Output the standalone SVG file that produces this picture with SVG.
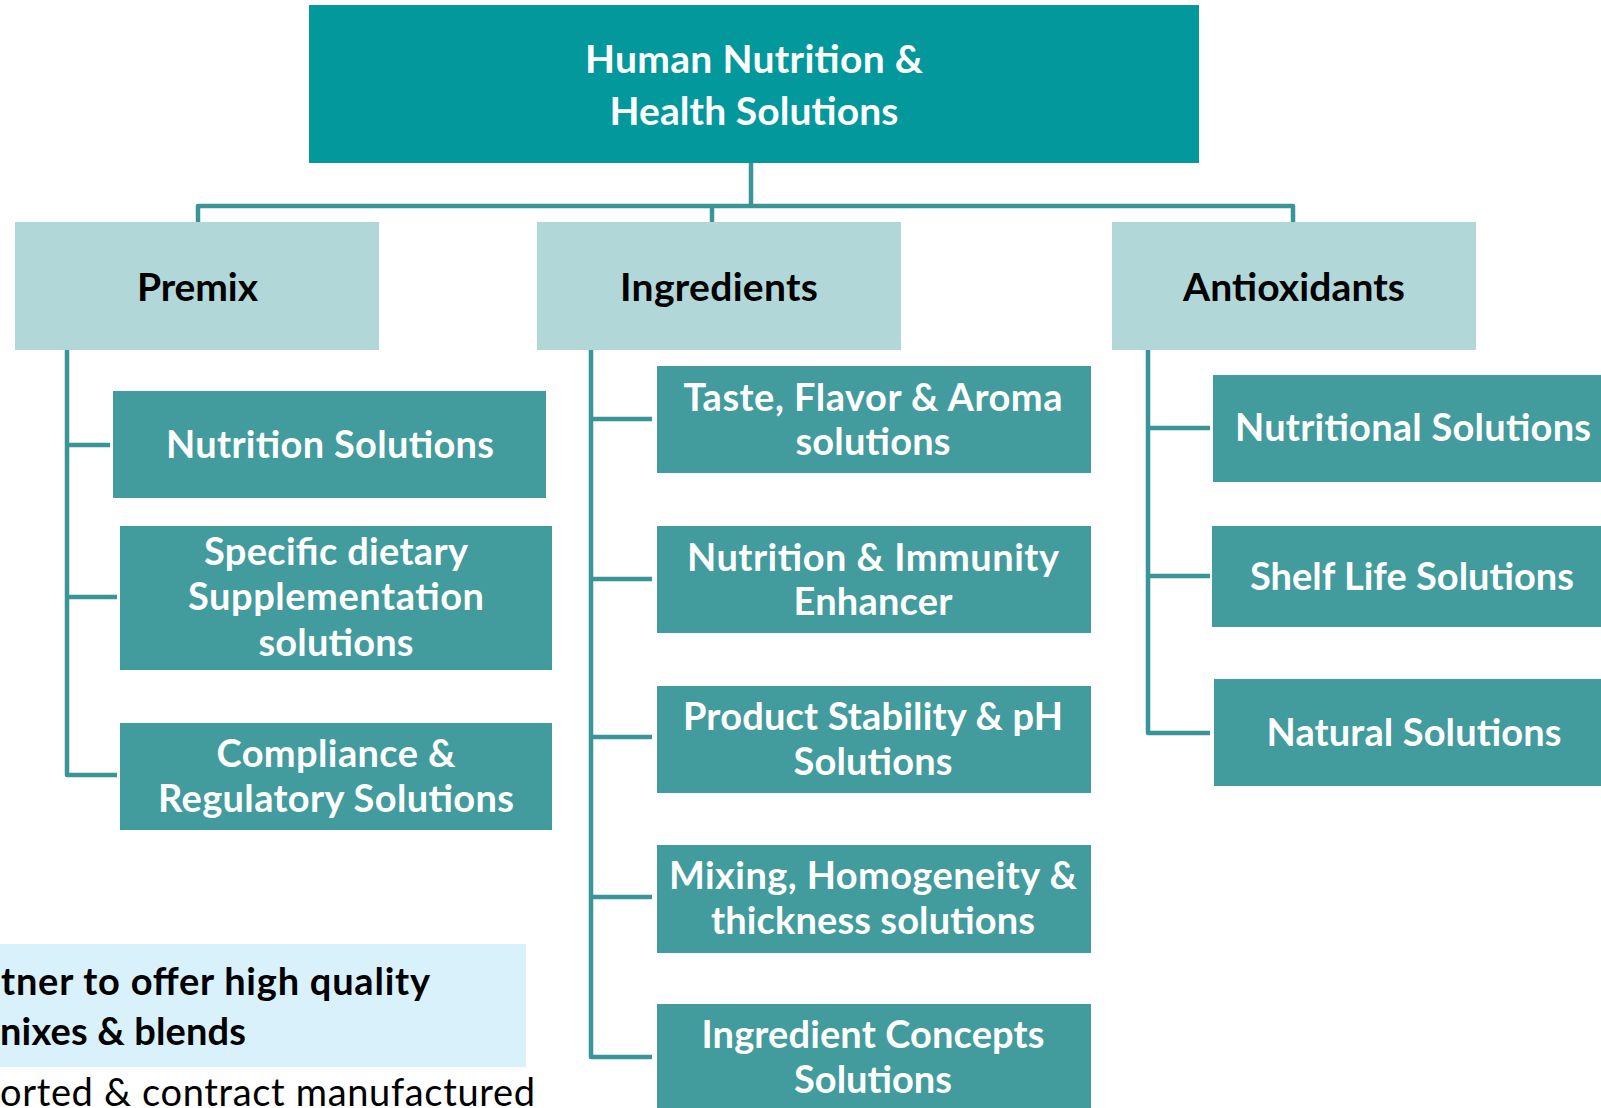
<svg xmlns="http://www.w3.org/2000/svg" width="1601" height="1108" viewBox="0 0 1601 1108">
<style>
  .top { fill: #02989C; }
  .l2 { fill: #B2D7D8; }
  .l3 { fill: #429B9D; }
  .note { fill: #D9F1FA; }
  text { font-family: Lato, "Open Sans", "Liberation Sans", sans-serif; font-weight: bold; }
  .tw { fill: #FFFFFF; font-size: 39px; text-anchor: middle; }
  .tb { fill: #000000; font-size: 39px; text-anchor: middle; }
  .w3 { fill: #FFFFFF; font-size: 38px; text-anchor: middle; }
  .nb { fill: #000000; font-size: 38px; }
  .nr { fill: #000000; font-size: 38px; font-weight: normal; }
  .conn { fill: none; stroke: #3A9598; stroke-width: 4.5; stroke-linejoin: round; stroke-linecap: butt; }
</style>
<rect width="1601" height="1108" fill="#FFFFFF"/>

<g id="connectors">
  <path class="conn" d="M751,163 V206"/>
  <path class="conn" d="M198,222 V206 H1293 V222"/>
  <path class="conn" d="M712,206 V222"/>
  <path class="conn" d="M67,350 V775 H117"/>
  <path class="conn" d="M67,445 H110"/>
  <path class="conn" d="M67,597 H117"/>
  <path class="conn" d="M591,350 V1057 H652"/>
  <path class="conn" d="M591,419 H652"/>
  <path class="conn" d="M591,579 H652"/>
  <path class="conn" d="M591,737 H652"/>
  <path class="conn" d="M591,897 H652"/>
  <path class="conn" d="M1148,350 V733 H1210"/>
  <path class="conn" d="M1148,428 H1210"/>
  <path class="conn" d="M1148,576 H1210"/>
</g>

<g id="root">
  <rect class="top" x="309" y="5" width="890" height="158"/>
  <text class="tw" x="754" y="73" textLength="338">Human Nutrition &amp;</text>
  <text class="tw" x="754" y="125" textLength="289">Health Solutions</text>
</g>

<g id="premix">
  <rect class="l2" x="15" y="222" width="364" height="128"/>
  <text class="tb" x="197.5" y="301" textLength="121">Premix</text>
</g>
<g id="ingredients">
  <rect class="l2" x="537" y="222" width="364" height="128"/>
  <text class="tb" x="719" y="301" textLength="198">Ingredients</text>
</g>
<g id="antioxidants">
  <rect class="l2" x="1112" y="222" width="364" height="128"/>
  <text class="tb" x="1294" y="301" textLength="222">Antioxidants</text>
</g>

<g id="nutrition-solutions">
  <rect class="l3" x="113" y="391" width="433" height="107"/>
  <text class="w3" x="330" y="458" textLength="328">Nutrition Solutions</text>
</g>
<g id="specific-dietary">
  <rect class="l3" x="120" y="526" width="432" height="144"/>
  <text class="w3" x="336" y="565" textLength="264">Specific dietary</text>
  <text class="w3" x="336" y="610" textLength="296">Supplementation</text>
  <text class="w3" x="336" y="656" textLength="155">solutions</text>
</g>
<g id="compliance">
  <rect class="l3" x="120" y="723" width="432" height="107"/>
  <text class="w3" x="336" y="767" textLength="239">Compliance &amp;</text>
  <text class="w3" x="336" y="812" textLength="356">Regulatory Solutions</text>
</g>

<g id="taste">
  <rect class="l3" x="657" y="366" width="434" height="107"/>
  <text class="w3" x="873" y="411" textLength="379">Taste, Flavor &amp; Aroma</text>
  <text class="w3" x="873" y="455" textLength="155">solutions</text>
</g>
<g id="immunity">
  <rect class="l3" x="657" y="526" width="434" height="107"/>
  <text class="w3" x="873" y="571" textLength="372">Nutrition &amp; Immunity</text>
  <text class="w3" x="873" y="615" textLength="159">Enhancer</text>
</g>
<g id="stability">
  <rect class="l3" x="657" y="686" width="434" height="107"/>
  <text class="w3" x="873" y="730" textLength="380">Product Stability &amp; pH</text>
  <text class="w3" x="873" y="775" textLength="159">Solutions</text>
</g>
<g id="mixing">
  <rect class="l3" x="657" y="845" width="434" height="108"/>
  <text class="w3" x="873" y="889" textLength="408">Mixing, Homogeneity &amp;</text>
  <text class="w3" x="873" y="934" textLength="324">thickness solutions</text>
</g>
<g id="concepts">
  <rect class="l3" x="657" y="1004" width="434" height="110"/>
  <text class="w3" x="873" y="1048" textLength="343">Ingredient Concepts</text>
  <text class="w3" x="873" y="1093" textLength="158">Solutions</text>
</g>

<g id="nutritional-solutions">
  <rect class="l3" x="1213" y="375" width="400" height="107"/>
  <text class="w3" x="1413" y="441" textLength="356">Nutritional Solutions</text>
</g>
<g id="shelf-life">
  <rect class="l3" x="1212" y="526" width="400" height="101"/>
  <text class="w3" x="1412" y="590" textLength="324">Shelf Life Solutions</text>
</g>
<g id="natural">
  <rect class="l3" x="1214" y="679" width="400" height="107"/>
  <text class="w3" x="1414" y="746" textLength="295">Natural Solutions</text>
</g>

<g id="note">
  <rect class="note" x="0" y="944" width="526" height="123"/>
  <text class="nb" x="1" y="995" textLength="429">tner to offer high quality</text>
  <text class="nb" x="0" y="1045" textLength="246">nixes &amp; blends</text>
  <text class="nr" x="0" y="1106" textLength="535">orted &amp; contract manufactured</text>
</g>
</svg>
